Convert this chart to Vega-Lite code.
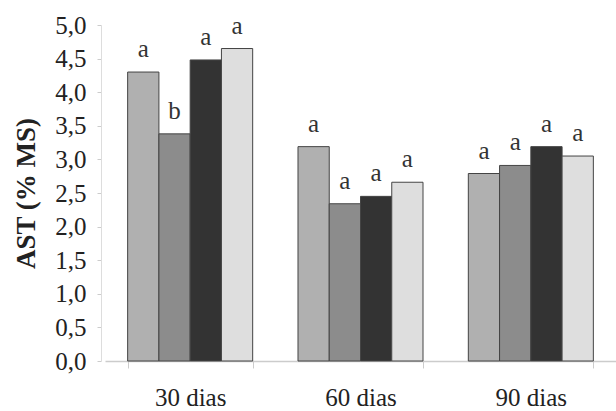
{
  "$schema": "https://vega.github.io/schema/vega-lite/v6.json",
  "width": 511,
  "height": 336,
  "autosize": "none",
  "padding": {"left": 105, "top": 25, "right": 0, "bottom": 50},
  "config": {"view": {"stroke": null}, "font": "Liberation Serif"},
  "data": {
    "values": [
      {"periodo": "30 dias", "trat": "T1", "ast": 4.30, "letra": "a"},
      {"periodo": "30 dias", "trat": "T2", "ast": 3.38, "letra": "b"},
      {"periodo": "30 dias", "trat": "T3", "ast": 4.48, "letra": "a"},
      {"periodo": "30 dias", "trat": "T4", "ast": 4.65, "letra": "a"},
      {"periodo": "60 dias", "trat": "T1", "ast": 3.19, "letra": "a"},
      {"periodo": "60 dias", "trat": "T2", "ast": 2.34, "letra": "a"},
      {"periodo": "60 dias", "trat": "T3", "ast": 2.45, "letra": "a"},
      {"periodo": "60 dias", "trat": "T4", "ast": 2.66, "letra": "a"},
      {"periodo": "90 dias", "trat": "T1", "ast": 2.79, "letra": "a"},
      {"periodo": "90 dias", "trat": "T2", "ast": 2.91, "letra": "a"},
      {"periodo": "90 dias", "trat": "T3", "ast": 3.19, "letra": "a"},
      {"periodo": "90 dias", "trat": "T4", "ast": 3.05, "letra": "a"}
    ]
  },
  "encoding": {
    "x": {
      "field": "periodo",
      "type": "nominal",
      "sort": ["30 dias", "60 dias", "90 dias"],
      "scale": {"paddingInner": 0.266, "paddingOuter": 0.133},
      "axis": {
        "title": null,
        "labelAngle": 0,
        "labelFont": "Liberation Serif",
        "labelFontSize": 25,
        "labelColor": "#222",
        "labelPadding": 17,
        "tickBand": "extent",
        "tickSize": 7,
        "tickColor": "#cccccc",
        "domainColor": "#cccccc",
        "domainWidth": 1.5
      }
    },
    "xOffset": {
      "field": "trat",
      "type": "nominal",
      "scale": {"paddingInner": 0, "paddingOuter": 0}
    },
    "y": {
      "field": "ast",
      "type": "quantitative",
      "scale": {"domain": [0, 5], "nice": false},
      "axis": {
        "title": "AST (% MS)",
        "titleFont": "Liberation Serif",
        "titleFontSize": 27,
        "titleFontWeight": "bold",
        "titleColor": "#222",
        "titlePadding": 14,
        "values": [0, 0.5, 1, 1.5, 2, 2.5, 3, 3.5, 4, 4.5, 5],
        "labelExpr": "replace(format(datum.value, '.1f'), '.', ',')",
        "labelFont": "Liberation Serif",
        "labelFontSize": 25,
        "labelColor": "#222",
        "labelPadding": 11,
        "offset": 4,
        "grid": false,
        "tickSize": 4,
        "tickColor": "#cccccc",
        "domainColor": "#dddddd"
      }
    }
  },
  "layer": [
    {
      "mark": {"type": "bar", "stroke": "#444444", "strokeWidth": 1},
      "encoding": {
        "fill": {
          "field": "trat",
          "type": "nominal",
          "scale": {"range": ["#b0b0b0", "#8c8c8c", "#333333", "#dedede"]},
          "legend": null
        }
      }
    },
    {
      "mark": {"type": "text", "baseline": "alphabetic", "dy": -15, "fontSize": 25, "font": "Liberation Serif", "color": "#333333"},
      "encoding": {"text": {"field": "letra", "type": "nominal"}}
    }
  ]
}
